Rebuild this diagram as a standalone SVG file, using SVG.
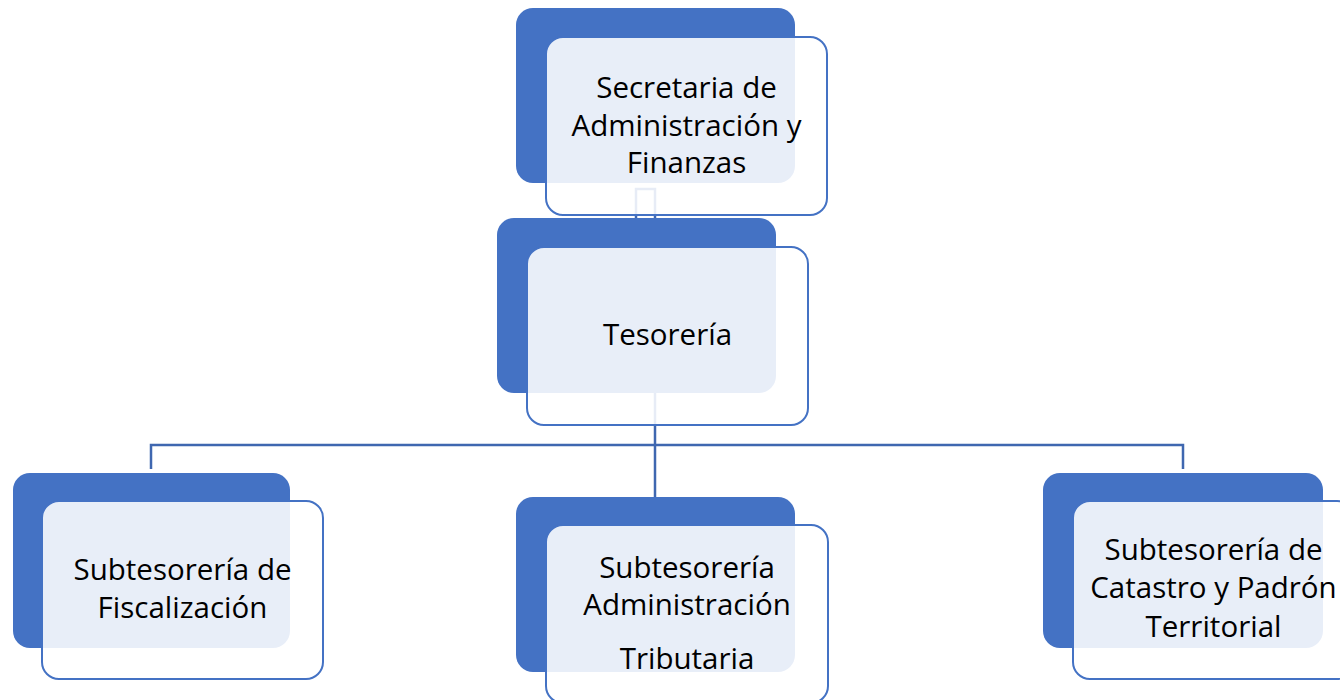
<svg xmlns="http://www.w3.org/2000/svg" width="1340" height="700" viewBox="0 0 1340 700">
<style>
.back{fill:#4472C4;}
.front{fill:#FFFFFF;fill-opacity:0.88;stroke:#4472C4;stroke-width:2;}
.conn{fill:none;stroke:#3F67B0;stroke-width:2.5;}
.lbl{font-family:"Open Sans","Noto Sans","Liberation Sans",sans-serif;font-size:29.5px;fill:#000000;text-anchor:middle;}
</style>
<rect width="1340" height="700" fill="#FFFFFF"/>
<g id="connectors">
<path class="conn" d="M636,218 V189 H655 V218"/>
<path class="conn" d="M655,393 V497"/>
<path class="conn" d="M151,469 V445 H1183 V469"/>
</g>
<g id="node-secretaria">
<rect class="back" x="516" y="8" width="279" height="175" rx="17"/>
<rect class="front" x="546" y="37" width="281" height="178" rx="17"/>
<text class="lbl" x="686.5" y="98">Secretaria de</text>
<text class="lbl" x="686.5" y="136">Administración y</text>
<text class="lbl" x="686.5" y="173">Finanzas</text>
</g>
<g id="node-tesoreria">
<rect class="back" x="497" y="218" width="279" height="175" rx="17"/>
<rect class="front" x="527" y="247" width="281" height="178" rx="17"/>
<text class="lbl" x="667.5" y="345">Tesorería</text>
</g>
<g id="node-fiscalizacion">
<rect class="back" x="13" y="473" width="277" height="175" rx="17"/>
<rect class="front" x="42" y="501" width="281" height="178" rx="17"/>
<text class="lbl" x="182.5" y="580">Subtesorería de</text>
<text class="lbl" x="182.5" y="618">Fiscalización</text>
</g>
<g id="node-administracion-tributaria">
<rect class="back" x="516" y="497" width="279" height="175" rx="17"/>
<rect class="front" x="546" y="525" width="282" height="178" rx="17"/>
<text class="lbl" x="687" y="578">Subtesorería</text>
<text class="lbl" x="687" y="615">Administración</text>
<text class="lbl" x="687" y="669">Tributaria</text>
</g>
<g id="node-catastro">
<rect class="back" x="1043" y="473" width="280" height="175" rx="17"/>
<rect class="front" x="1073" y="501" width="281" height="178" rx="17"/>
<text class="lbl" x="1213.5" y="560">Subtesorería de</text>
<text class="lbl" x="1213.5" y="598">Catastro y Padrón</text>
<text class="lbl" x="1213.5" y="637">Territorial</text>
</g>
</svg>
